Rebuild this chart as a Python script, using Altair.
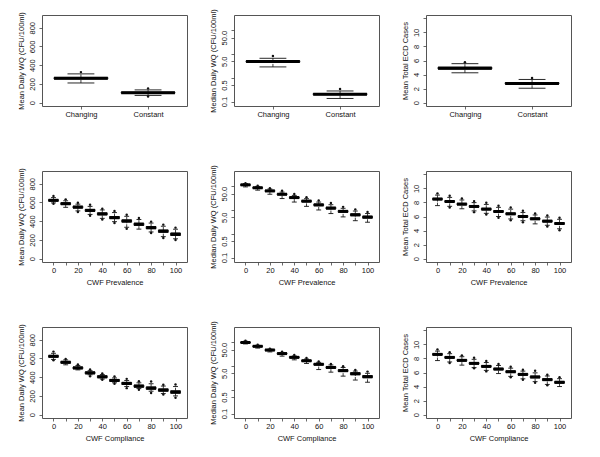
import altair as alt
import pandas as pd

# ---------------- data ----------------
cats = ["Changing", "Constant"]
cat_pos = [1, 2]
levels = [0, 10, 20, 30, 40, 50, 60, 70, 80, 90, 100]

# Row 1 : Changing vs Constant
p1_med = [260, 106]
p1_q1 = [252, 101]
p1_q3 = [269, 112]
p1_wlo = [210, 77]
p1_whi = [307, 136]
p1_ohi = [326, 152]
p1_olo = [None, 66]

p2_med = [4.9, 0.205]
p2_q1 = [4.6, 0.193]
p2_q3 = [5.25, 0.218]
p2_wlo = [2.9, 0.135]
p2_whi = [6.7, 0.28]
p2_ohi = [8.3, 0.34]
p2_olo = [None, None]

p3_med = [4.9, 2.74]
p3_q1 = [4.78, 2.65]
p3_q3 = [5.05, 2.85]
p3_wlo = [4.25, 2.05]
p3_whi = [5.55, 3.30]
p3_ohi = [5.75, 3.5]
p3_olo = [None, None]

# Row 2 : CWF Prevalence
p4_med = [623, 587, 550, 515, 478, 438, 402, 367, 331, 293, 260]
p4_q1 = [613, 577, 540, 505, 467, 427, 390, 355, 319, 281, 247]
p4_q3 = [632, 597, 560, 526, 489, 450, 414, 379, 343, 306, 274]
p4_wlo = [595, 548, 510, 472, 430, 395, 335, 315, 285, 235, 212]
p4_whi = [652, 618, 582, 558, 520, 492, 452, 418, 380, 346, 314]
p4_ohi = [668, 633, 597, 576, 533, 508, 469, 433, 395, 363, 331]
p4_olo = [587, None, 497, 459, 419, 380, 320, None, 273, 220, 198]

p5_med = [117, 88, 65, 47, 34, 24, 16.7, 12.2, 8.9, 6.4, 5.1]
p5_q1 = [110, 83, 61, 44, 31.5, 22.2, 15.4, 11.2, 8.1, 5.8, 4.6]
p5_q3 = [124, 94, 69, 50, 36.5, 26, 18.2, 13.3, 9.7, 7.0, 5.6]
p5_wlo = [96, 70, 47, 31, 22, 14.5, 10.2, 7.2, 5.2, 3.6, 3.1]
p5_whi = [132, 101, 78, 58, 42, 30.5, 22, 17, 12, 9.2, 7.2]
p5_ohi = [137, 107, 85, 66, 48, 35, 25.6, 20.3, 13.8, 10.8, 8.3]
p5_olo = [None, None, None, None, None, None, None, None, None, None, None]

p6_med = [8.48, 8.14, 7.76, 7.43, 7.05, 6.71, 6.38, 6.0, 5.67, 5.33, 5.0]
p6_q1 = [8.38, 8.03, 7.66, 7.32, 6.94, 6.60, 6.27, 5.89, 5.56, 5.22, 4.88]
p6_q3 = [8.60, 8.26, 7.88, 7.55, 7.17, 6.84, 6.51, 6.13, 5.80, 5.46, 5.13]
p6_wlo = [7.55, 7.45, 7.10, 6.80, 6.45, 6.00, 5.65, 5.40, 4.95, 4.75, 4.25]
p6_whi = [9.05, 8.72, 8.35, 7.98, 7.72, 7.30, 7.05, 6.58, 6.22, 5.92, 5.60]
p6_ohi = [9.29, 8.95, 8.57, 8.19, 7.95, 7.52, 7.29, 6.81, 6.43, 6.14, 5.81]
p6_olo = [None, 7.29, None, 6.62, 6.29, 5.81, 5.48, 5.19, None, 4.57, 4.05]

# Row 3 : CWF Compliance
p7_med = [623, 559, 499, 446, 404, 365, 333, 304, 283, 262, 241]
p7_q1 = [613, 549, 489, 436, 394, 355, 322, 293, 271, 250, 228]
p7_q3 = [633, 569, 509, 457, 415, 376, 345, 316, 296, 275, 255]
p7_wlo = [590, 532, 478, 425, 380, 340, 300, 278, 250, 225, 200]
p7_whi = [655, 585, 525, 470, 428, 392, 365, 340, 330, 305, 300]
p7_ohi = [673, 595, 535, 481, 439, 407, 382, 357, 354, 319, 322]
p7_olo = [580, None, None, 411, 372, 329, 283, 265, 230, 216, 180]

p8_med = [100, 69, 48, 34, 23.6, 16.9, 12.0, 8.85, 6.5, 4.8, 3.6]
p8_q1 = [95, 65, 45, 32, 22, 15.7, 11.1, 8.1, 5.9, 4.35, 3.25]
p8_q3 = [105, 73, 51, 36.5, 25.3, 18.2, 13, 9.6, 7.1, 5.3, 4.0]
p8_wlo = [87, 58, 40, 26.5, 18.5, 13, 7.2, 5.6, 3.8, 2.6, 2.1]
p8_whi = [113, 76, 52, 38, 27, 20, 14.5, 11.3, 8.8, 6.2, 5.0]
p8_ohi = [120, 80, 55, 41, 29.5, 22, 15.8, 12.4, 10, 6.9, 5.9]
p8_olo = [None, None, None, None, None, None, None, None, None, None, None]

p9_med = [8.58, 8.15, 7.73, 7.30, 6.87, 6.49, 6.11, 5.73, 5.36, 4.98, 4.60]
p9_q1 = [8.47, 8.04, 7.62, 7.19, 6.76, 6.38, 5.99, 5.61, 5.24, 4.86, 4.47]
p9_q3 = [8.70, 8.27, 7.85, 7.42, 6.99, 6.61, 6.24, 5.86, 5.49, 5.11, 4.74]
p9_wlo = [7.70, 7.50, 7.05, 6.70, 6.30, 5.85, 5.45, 5.10, 4.70, 4.30, 4.00]
p9_whi = [9.05, 8.68, 8.25, 7.88, 7.42, 7.00, 6.62, 6.20, 5.95, 5.50, 5.12]
p9_ohi = [9.29, 8.90, 8.44, 8.10, 7.63, 7.20, 6.82, 6.40, 6.26, 5.69, 5.31]
p9_olo = [None, 7.35, None, 6.59, 6.16, None, 5.31, 4.98, 4.55, 4.17, None]

title_wq_mean = "Mean Daily WQ (CFU/100ml)"
title_wq_median = "Median Daily WQ (CFU/100ml)"
title_ecd = "Mean Total ECD Cases"

FONT = "Liberation Sans"

YSPECS = {
    "wq": dict(type="linear", domain=[-36, 936], values=[0, 200, 400, 600, 800],
               expr="datum.label"),
    "log": dict(type="log", domain=[0.065, 450], values=[0.1, 0.5, 1, 5, 10, 50, 100],
                expr="datum.value == 0.1 ? '0.1' : datum.value == 0.5 ? '0.5' : datum.value == 5 ? '5.0' : datum.value == 50 ? '50.0' : ''"),
    "ecd": dict(type="linear", domain=[-0.48, 12.48], values=[0, 2, 4, 6, 8, 10, 12],
                expr="datum.value == 12 ? '' : datum.label"),
}

XSPECS = {
    "cat": dict(domain=[0.42, 2.58], values=cat_pos, hw=0.4,
                expr="datum.value == 1 ? '%s' : '%s'" % (cats[0], cats[1])),
    "lev": dict(domain=[-9.4, 109.4], values=levels, hw=4,
                expr="datum.value % 20 == 0 ? datum.label : ''"),
}


def panel(xs, med, q1, q3, wlo, whi, ohi, olo, ykind, xkind, ytitle, xtitle):
    ys = YSPECS[ykind]
    xsp = XSPECS[xkind]
    hw = xsp["hw"]
    df = pd.DataFrame({"x": xs, "med": med, "q1": q1, "q3": q3, "wlo": wlo, "whi": whi})
    pts = [(x, v) for x, v in zip(xs, ohi) if v is not None] + \
          [(x, v) for x, v in zip(xs, olo) if v is not None]
    odf = pd.DataFrame(pts, columns=["x", "v"])

    xscale = alt.Scale(domain=xsp["domain"], nice=False, zero=False)
    yscale = alt.Scale(type=ys["type"], domain=ys["domain"], nice=False, zero=False)
    xaxis = alt.Axis(values=xsp["values"], labelExpr=xsp["expr"], title=xtitle,
                     labelFlush=False, labelOverlap=False)
    yaxis = alt.Axis(values=ys["values"], labelExpr=ys["expr"], title=ytitle,
                     labelFlush=False, labelOverlap=False)

    def X(f):
        return alt.X(f, type="quantitative", scale=xscale, axis=xaxis)

    def Y(f):
        return alt.Y(f, type="quantitative", scale=yscale, axis=yaxis)

    base = alt.Chart(df).transform_calculate(
        xl="datum.x - %s" % hw, xr="datum.x + %s" % hw,
        sl="datum.x - %s" % (hw / 2), sr="datum.x + %s" % (hw / 2))

    dash = dict(color="#111", strokeWidth=0.8, strokeDash=[3, 1])
    wl = base.mark_rule(**dash).encode(x=X("x"), y=Y("wlo"), y2="q1:Q")
    wh = base.mark_rule(**dash).encode(x=X("x"), y=Y("q3"), y2="whi:Q")
    sl = base.mark_rule(color="#111", strokeWidth=0.9).encode(x=X("sl"), x2="sr:Q", y=Y("wlo"))
    sh = base.mark_rule(color="#111", strokeWidth=0.9).encode(x=X("sl"), x2="sr:Q", y=Y("whi"))
    box = base.mark_rect(fill="white", stroke="#000", strokeWidth=0.9).encode(
        x=X("xl"), x2="xr:Q", y=Y("q1"), y2="q3:Q")
    md = base.mark_rule(color="#000", strokeWidth=3).encode(x=X("xl"), x2="xr:Q", y=Y("med"))
    out = alt.Chart(odf).mark_point(shape="circle", filled=True, color="#111",
                                    size=6, opacity=1).encode(x=X("x"), y=Y("v"))
    return alt.layer(wl, wh, sl, sh, box, md, out).properties(width=145, height=91)


panels = [
    panel(cat_pos, p1_med, p1_q1, p1_q3, p1_wlo, p1_whi, p1_ohi, p1_olo, "wq", "cat", title_wq_mean, None),
    panel(cat_pos, p2_med, p2_q1, p2_q3, p2_wlo, p2_whi, p2_ohi, p2_olo, "log", "cat", title_wq_median, None),
    panel(cat_pos, p3_med, p3_q1, p3_q3, p3_wlo, p3_whi, p3_ohi, p3_olo, "ecd", "cat", title_ecd, None),
    panel(levels, p4_med, p4_q1, p4_q3, p4_wlo, p4_whi, p4_ohi, p4_olo, "wq", "lev", title_wq_mean, "CWF Prevalence"),
    panel(levels, p5_med, p5_q1, p5_q3, p5_wlo, p5_whi, p5_ohi, p5_olo, "log", "lev", title_wq_median, "CWF Prevalence"),
    panel(levels, p6_med, p6_q1, p6_q3, p6_wlo, p6_whi, p6_ohi, p6_olo, "ecd", "lev", title_ecd, "CWF Prevalence"),
    panel(levels, p7_med, p7_q1, p7_q3, p7_wlo, p7_whi, p7_ohi, p7_olo, "wq", "lev", title_wq_mean, "CWF Compliance"),
    panel(levels, p8_med, p8_q1, p8_q3, p8_wlo, p8_whi, p8_ohi, p8_olo, "log", "lev", title_wq_median, "CWF Compliance"),
    panel(levels, p9_med, p9_q1, p9_q3, p9_wlo, p9_whi, p9_ohi, p9_olo, "ecd", "lev", title_ecd, "CWF Compliance"),
]

chart = alt.concat(*panels, columns=3, spacing={"row": 65, "column": 47}, bounds="flush").properties(
    padding={"left": 8, "top": 0, "right": 5, "bottom": 5}
).configure_view(
    stroke="#555", strokeWidth=1
).configure_axis(
    domain=False, grid=False, ticks=True, tickSize=3, tickColor="#444", tickWidth=0.8,
    labelFont=FONT, labelFontSize=7.5, labelColor="#111",
    titleFont=FONT, titleFontSize=7.5, titleFontWeight="normal", titleColor="#111"
).configure_axisY(
    labelAngle=270, labelAlign="center", labelBaseline="bottom", labelPadding=3, titlePadding=3
).configure_axisX(
    labelPadding=1.5, titlePadding=4
)

chart.save("out.html", embed_options={"renderer": "svg", "actions": False})
